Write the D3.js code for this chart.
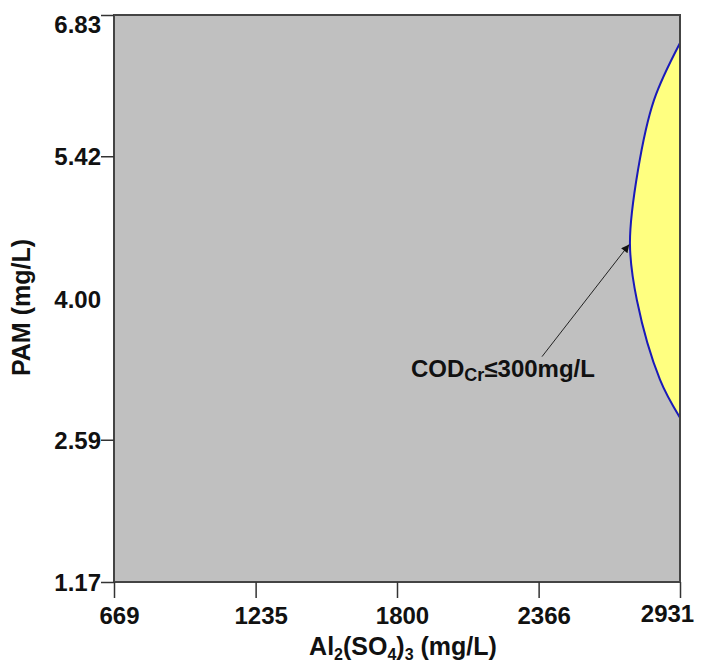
<html>
<head>
<meta charset="utf-8">
<script src="https://d3js.org/d3.v7.min.js"></script>
<style>
  body { margin: 0; background: #ffffff; }
  .axis text { font-family: "Liberation Sans", Arial, sans-serif; font-size: 24px; font-weight: bold; fill: #111; }
  .axis path, .axis line { stroke: #333; stroke-width: 1.5; }
  .title { font-family: "Liberation Sans", Arial, sans-serif; font-size: 25px; font-weight: bold; fill: #111; }
</style>
</head>
<body>
<script>
// axis ranges and tick labels
var xTicks = [669, 1235, 1800, 2366, 2931];
var yTicks = [1.17, 2.59, 4.00, 5.42, 6.83];

// boundary of the COD <= 300 mg/L region (Al2(SO4)3, PAM)
var boundaryX = [2931, 2827, 2763, 2731, 2759, 2851, 2931];
var boundaryY = [6.55, 5.98, 5.28, 4.55, 3.98, 3.19, 2.81];

// annotation: label and the point the arrow points at
var noteLabel = { x: 1856, y: 3.22 };
var notePoint = { x: 2728, y: 4.54 };

var width = 701, height = 662;
var padding = { top: 15, right: 21, bottom: 80, left: 114 };

var svg = d3.select("body").append("svg")
    .attr("width", width)
    .attr("height", height);

var xScale = d3.scaleLinear().domain([669, 2931]).range([padding.left, width - padding.right]);
var yScale = d3.scaleLinear().domain([1.17, 6.83]).range([height - padding.bottom, padding.top]);

var plotW = width - padding.left - padding.right;
var plotH = height - padding.top - padding.bottom;

// clip
svg.append("clipPath").attr("id", "plotclip").append("rect")
    .attr("x", padding.left).attr("y", padding.top)
    .attr("width", plotW).attr("height", plotH);

// background
svg.append("rect")
    .attr("x", padding.left).attr("y", padding.top)
    .attr("width", plotW).attr("height", plotH)
    .attr("fill", "#c0c0c0");

var pts = boundaryX.map(function(d, i){ return [d, boundaryY[i]]; });

var line = d3.line()
    .x(function(d){ return xScale(d[0]); })
    .y(function(d){ return yScale(d[1]); })
    .curve(d3.curveCatmullRom);

var plot = svg.append("g").attr("clip-path", "url(#plotclip)");

plot.append("path")
    .attr("d", line(pts) + "Z")
    .attr("fill", "#ffff80")
    .attr("stroke", "none");

plot.append("path")
    .attr("d", line(pts))
    .attr("fill", "none")
    .attr("stroke", "#1a1ab8")
    .attr("stroke-width", 2);

// frame
svg.append("rect")
    .attr("x", padding.left).attr("y", padding.top)
    .attr("width", plotW).attr("height", plotH)
    .attr("fill", "none")
    .attr("stroke", "#444")
    .attr("stroke-width", 2);

// axes
var xAxis = d3.axisBottom(xScale).tickValues(xTicks).tickFormat(d3.format("d")).tickSize(16).tickSizeOuter(0);
var gx = svg.append("g")
    .attr("class", "axis")
    .attr("transform", "translate(0," + (height - padding.bottom) + ")")
    .call(xAxis);
gx.select(".domain").remove();
gx.selectAll("text").attr("y", 25).attr("dy", "0.71em").attr("dx", 5);
gx.selectAll(".tick").filter(function(d){ return d === 2931; }).select("text")
    .attr("dx", -13).attr("y", 23);

var yAxis = d3.axisLeft(yScale).tickValues(yTicks).tickFormat(d3.format(".2f")).tickSize(13).tickSizeOuter(0);
var gy = svg.append("g")
    .attr("class", "axis")
    .attr("transform", "translate(" + padding.left + ",0)")
    .call(yAxis);
gy.select(".domain").remove();
gy.selectAll("text").attr("x", -13).attr("dy", "0.36em");
gy.selectAll(".tick").filter(function(d){ return d === 4.00; }).select("line").remove();
gy.selectAll(".tick").filter(function(d){ return d === 6.83; }).select("text").attr("dy", "0.72em");

// axis titles
var xt = svg.append("text").attr("class", "title")
    .attr("x", 403).attr("y", 655)
    .attr("text-anchor", "middle");
xt.append("tspan").text("Al");
xt.append("tspan").text("2").attr("font-size", "16px").attr("dy", 5);
xt.append("tspan").text("(SO").attr("dy", -5);
xt.append("tspan").text("4").attr("font-size", "16px").attr("dy", 5);
xt.append("tspan").text(")").attr("dy", -5);
xt.append("tspan").text("3").attr("font-size", "16px").attr("dy", 5);
xt.append("tspan").text(" (mg/L)").attr("dy", -5);

svg.append("text").attr("class", "title")
    .attr("transform", "translate(30," + (yScale(4.00) + 9) + ") rotate(-90)")
    .attr("text-anchor", "middle")
    .text("PAM (mg/L)");

// annotation
svg.append("defs").append("marker")
    .attr("id", "arrow")
    .attr("viewBox", "0 0 10 10")
    .attr("refX", 10).attr("refY", 5)
    .attr("markerWidth", 9).attr("markerHeight", 8)
    .attr("markerUnits", "userSpaceOnUse")
    .attr("orient", "auto")
    .append("path")
    .attr("d", "M0,0 L10,5 L0,10 Z")
    .attr("fill", "#111");

svg.append("line")
    .attr("x1", xScale(noteLabel.x) + 131)
    .attr("y1", yScale(noteLabel.y) - 20)
    .attr("x2", xScale(notePoint.x))
    .attr("y2", yScale(notePoint.y))
    .attr("stroke", "#222")
    .attr("stroke-width", 1)
    .attr("marker-end", "url(#arrow)");

var note = svg.append("text")
    .attr("x", xScale(noteLabel.x)).attr("y", yScale(noteLabel.y))
    .attr("font-family", "Liberation Sans, Arial, sans-serif")
    .attr("font-size", "24px")
    .attr("font-weight", "bold")
    .attr("fill", "#111");
note.append("tspan").text("COD");
note.append("tspan").text("Cr").attr("font-size", "18px").attr("dy", 4);
note.append("tspan").text("≤300mg/L").attr("dy", -4);
</script>
</body>
</html>
